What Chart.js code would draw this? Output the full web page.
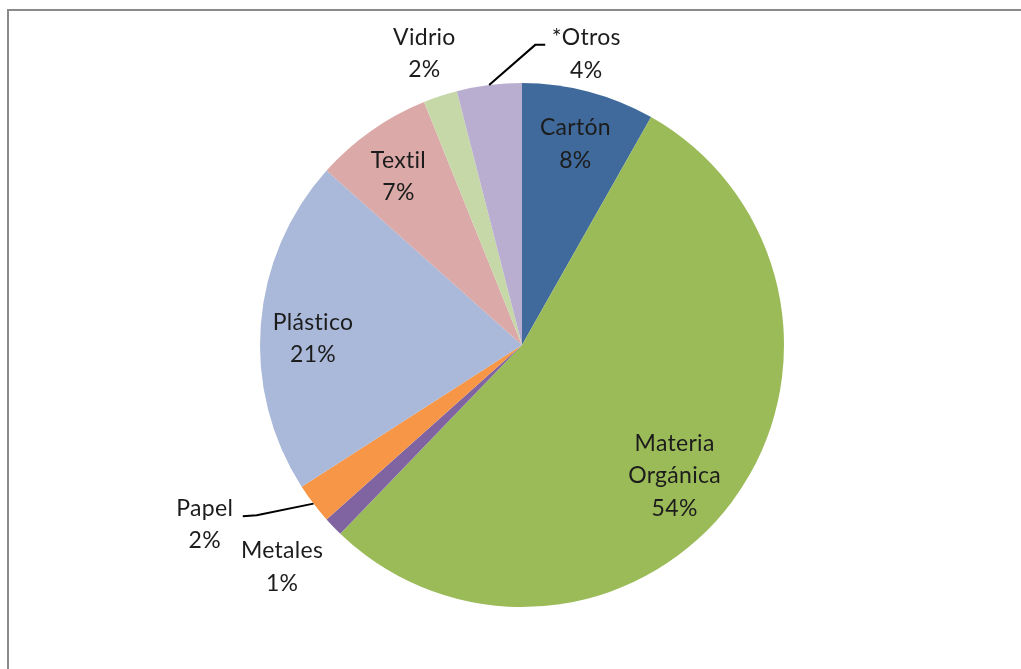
<!DOCTYPE html>
<html>
<head>
<meta charset="utf-8">
<script src="https://cdn.jsdelivr.net/npm/chart.js@4.4.1/dist/chart.umd.min.js"></script>
<style>
  body { margin: 0; background: #fff; }
  #wrap { position: relative; width: 1021px; height: 669px; overflow: hidden; }
  #frame { position: absolute; left: 7px; top: 9px; width: 1100px; height: 700px;
           border-top: 2px solid #8a8a8a; border-left: 2px solid #8a8a8a; }
  #pie { position: absolute; left: 0; top: 0; }
</style>
</head>
<body>
<div id="wrap">
  <div id="frame"></div>
  <canvas id="pie" width="1021" height="669"></canvas>
</div>
<script>
// datos (% en peso)
const categories = ['Cartón', 'Materia Orgánica', 'Metales', 'Papel', 'Plástico', 'Textil', 'Vidrio', '*Otros'];
const values = [8.2, 54.0, 1.2, 2.5, 20.7, 7.3, 2.1, 4.0];
const percentLabels = ['8%', '54%', '1%', '2%', '21%', '7%', '2%', '4%'];
const sliceColors = ['#406a9b', '#9bbb59', '#8064a2', '#f79646', '#aab9d9', '#daa9a8', '#c6d8a8', '#b9aecf'];

// texto de cada etiqueta (lineas)
const labelLines = [
    ['Cartón'], ['Materia', 'Orgánica'], ['Metales'], ['Papel'],
    ['Plástico'], ['Textil'], ['Vidrio'], ['*Otros']
];

// ubicacion de etiquetas: r = fraccion del radio sobre el angulo medio, dx/dy ajuste
const labelPlace = [
    { r: 0.80, dx: 0, dy: 2 },
    { r: 0.76, dx: -7, dy: 12 },
    { r: 1.25, dx: -4, dy: -5 },
    { r: 1.20, dx: -67, dy: -11 },
    { r: 0.80, dx: 0, dy: 10 },
    { r: 0.80, dx: -3, dy: 3 },
    { r: 1.17, dx: -2, dy: 0 },
    { r: 1.12, dx: 101, dy: 0 }
];
// lineas guia (relativas al centro de la etiqueta)
const leaders = {
    3: [[52, -9], [38, -8]],
    7: [[-51, -9], [-41, -9]]
};

const labelPlugin = {
    id: 'pieLabels',
    afterDatasetsDraw(chart) {
        const ctx = chart.ctx;
        const meta = chart.getDatasetMeta(0);
        ctx.save();
        ctx.font = '23px Lato, "Open Sans", sans-serif';
        ctx.letterSpacing = '0.3px'; // evita ligaduras "ti"
        ctx.textAlign = 'center';
        ctx.textBaseline = 'middle';
        const lineH = 32.5;
        meta.data.forEach((arc, i) => {
            const p = arc.getProps(['x', 'y', 'startAngle', 'endAngle', 'outerRadius'], true);
            const mid = (p.startAngle + p.endAngle) / 2;
            const lx = p.x + Math.cos(mid) * p.outerRadius * labelPlace[i].r + labelPlace[i].dx;
            const ly = p.y + Math.sin(mid) * p.outerRadius * labelPlace[i].r + labelPlace[i].dy;
            const lines = labelLines[i].concat([percentLabels[i]]);
            const top = ly - (lines.length - 1) * lineH / 2;
            ctx.fillStyle = '#1c1c1c';
            lines.forEach((t, k) => ctx.fillText(t, lx, top + k * lineH));

            if (leaders[i]) {
                ctx.beginPath();
                ctx.strokeStyle = '#000';
                ctx.lineWidth = 2;
                ctx.moveTo(p.x + Math.cos(mid) * p.outerRadius, p.y + Math.sin(mid) * p.outerRadius);
                leaders[i].forEach(pt => ctx.lineTo(lx + pt[0], ly + pt[1]));
                ctx.stroke();
            }
        });
        ctx.restore();
    }
};

new Chart(document.getElementById('pie'), {
    type: 'pie',
    data: {
        labels: categories,
        datasets: [{
            data: values,
            backgroundColor: sliceColors,
            borderWidth: 0
        }]
    },
    options: {
        responsive: false,
        animation: false,
        layout: { padding: { top: 83, bottom: 62, left: 100, right: 77 } },
        plugins: {
            legend: { display: false },
            tooltip: { enabled: false }
        }
    },
    plugins: [labelPlugin]
});
</script>
</body>
</html>
